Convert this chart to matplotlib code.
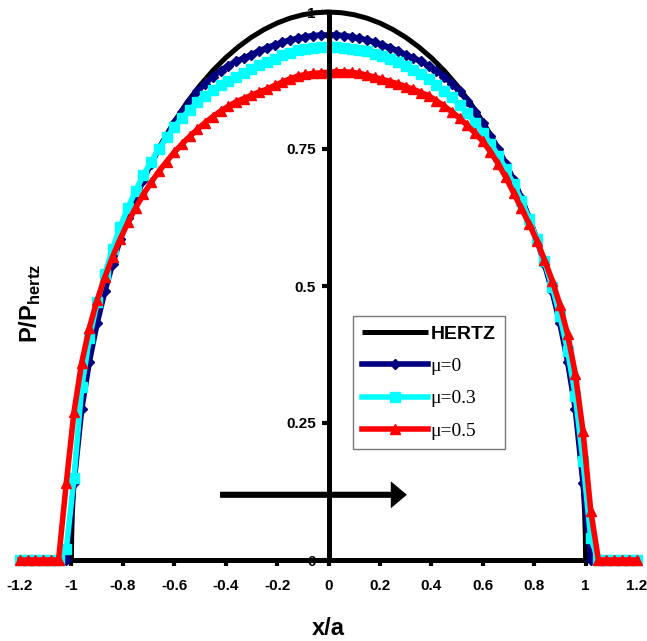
import matplotlib
matplotlib.use('Agg')
import matplotlib.pyplot as plt
import numpy as np

plt.rcParams['font.family'] = ['Liberation Sans', 'DejaVu Sans']
plt.rcParams['mathtext.fontset'] = 'custom'
plt.rcParams['mathtext.rm'] = 'Liberation Sans'
plt.rcParams['mathtext.bf'] = 'Liberation Sans:bold'

# ---- data ----
# sample positions x/a for the three computed series (step 0.03 from -1.2 to 1.2)
x_grid = np.linspace(-1.2, 1.2, 81)

hertz_half_x = [0.0, 0.05, 0.1, 0.15, 0.2, 0.25, 0.3, 0.35, 0.4, 0.45, 0.5, 0.55, 0.6, 0.65,
                0.7, 0.75, 0.8, 0.825, 0.85, 0.875, 0.9, 0.92, 0.94, 0.95, 0.96, 0.97, 0.98,
                0.99, 0.996, 0.999, 1.0, 1.2]
hertz_half_y = [1.0, 0.9987, 0.9950, 0.9887, 0.9798, 0.9682, 0.9539, 0.9367, 0.9165, 0.8930,
                0.8660, 0.8352, 0.8000, 0.7599, 0.7141, 0.6614, 0.6000, 0.5651, 0.5268, 0.4841,
                0.4359, 0.3919, 0.3412, 0.3122, 0.2800, 0.2431, 0.1990, 0.1411, 0.0894, 0.0447,
                0.0, 0.0]
hertz_x = [-v for v in hertz_half_x[::-1]] + hertz_half_x[1:]
hertz_y = hertz_half_y[::-1] + hertz_half_y[1:]

mu0 = [0, 0, 0, 0, 0, 0, 0,
       0.140, 0.275, 0.362, 0.432, 0.490, 0.540, 0.585, 0.625, 0.661, 0.694, 0.723, 0.750,
       0.774, 0.797, 0.818, 0.838, 0.855, 0.869, 0.882, 0.893, 0.902, 0.910, 0.916, 0.922,
       0.929, 0.935, 0.940, 0.945, 0.949, 0.952, 0.955, 0.957, 0.958,
       0.958,
       0.958, 0.957, 0.955, 0.952, 0.949, 0.945, 0.940, 0.935, 0.929, 0.922, 0.916, 0.910,
       0.902, 0.893, 0.882, 0.869, 0.855, 0.838, 0.818, 0.797, 0.774, 0.750, 0.723, 0.694,
       0.661, 0.625, 0.585, 0.540, 0.490, 0.432, 0.362, 0.275, 0.140,
       0, 0, 0, 0, 0, 0, 0]

mu03 = [0, 0, 0, 0, 0, 0,
        0.020, 0.150, 0.315, 0.405, 0.470, 0.522, 0.568, 0.608, 0.643, 0.674, 0.702, 0.727,
        0.750, 0.771, 0.790, 0.807, 0.822, 0.835, 0.847, 0.857, 0.866, 0.874, 0.882, 0.889,
        0.896, 0.903, 0.909, 0.915, 0.921, 0.926, 0.930, 0.933, 0.935, 0.936,
        0.936,
        0.936, 0.935, 0.933, 0.931, 0.928, 0.924, 0.919, 0.914, 0.908, 0.901, 0.894, 0.886,
        0.877, 0.867, 0.856, 0.844, 0.830, 0.815, 0.798, 0.780, 0.760, 0.738, 0.713, 0.686,
        0.656, 0.623, 0.586, 0.545, 0.499, 0.446, 0.382, 0.300, 0.180, 0.040,
        0, 0, 0, 0, 0, 0]

mu05 = [0, 0, 0, 0, 0, 0,
        0.140, 0.270, 0.360, 0.424, 0.474, 0.516, 0.553, 0.586, 0.616, 0.643, 0.667, 0.689,
        0.709, 0.727, 0.744, 0.759, 0.773, 0.786, 0.798, 0.809, 0.819, 0.828, 0.836, 0.842,
        0.848, 0.854, 0.859, 0.866, 0.872, 0.878, 0.883, 0.886, 0.888, 0.889,
        0.890,
        0.891, 0.891, 0.890, 0.888, 0.885, 0.881, 0.877, 0.873, 0.869, 0.864, 0.859, 0.853,
        0.847, 0.838, 0.828, 0.818, 0.806, 0.793, 0.779, 0.764, 0.745, 0.723, 0.698, 0.670,
        0.642, 0.614, 0.583, 0.548, 0.510, 0.466, 0.412, 0.340, 0.235, 0.090,
        0, 0, 0, 0, 0, 0]

series_labels = ['HERTZ', 'μ=0', 'μ=0.3', 'μ=0.5']
xticks = [-1.2, -1.0, -0.8, -0.6, -0.4, -0.2, 0.0, 0.2, 0.4, 0.6, 0.8, 1.0, 1.2]
xtick_labels = ['-1.2', '-1', '-0.8', '-0.6', '-0.4', '-0.2', '0', '0.2', '0.4', '0.6', '0.8', '1', '1.2']
yticks = [0, 0.25, 0.5, 0.75, 1.0]
ytick_labels = ['0', '0.25', '0.5', '0.75', '1']

# ---- figure ----
W, H = 647, 641
AX_L, AX_R, AX_T, AX_B = 20, 637, 12, 560
fig = plt.figure(figsize=(W / 100, H / 100), dpi=100)
ax = fig.add_axes([AX_L / W, (H - AX_B) / H, (AX_R - AX_L) / W, (AX_B - AX_T) / H])
axw, axh = AX_R - AX_L, AX_B - AX_T

l_h, = ax.plot(hertz_x, hertz_y, color='black', lw=3.6, zorder=2.5, clip_on=False,
               solid_capstyle='butt', solid_joinstyle='round')
l_0, = ax.plot(x_grid, mu0, color='#000080', lw=4, marker='D', ms=5.5, zorder=3, clip_on=False)
l_3, = ax.plot(x_grid, mu03, color='#00FFFF', lw=4, marker='s', ms=6.5, zorder=4, clip_on=False)
l_5, = ax.plot(x_grid, mu05, color='#FF0000', lw=4, marker='^', ms=7.5, zorder=5, clip_on=False)

ax.set_xlim(-1.2, 1.2)
ax.set_ylim(0, 1)

ax.spines['top'].set_visible(False)
ax.spines['right'].set_visible(False)
ax.spines['left'].set_position(('data', 0))
ax.spines['bottom'].set_position(('data', 0))
for s in ('left', 'bottom'):
    ax.spines[s].set_linewidth(3.6)
    ax.spines[s].set_color('black')
ax.spines['bottom'].set_zorder(2)
ax.spines['left'].set_zorder(7)

ax.set_xticks(xticks)
ax.set_xticklabels(xtick_labels)
ax.set_yticks(yticks)
ax.set_yticklabels(ytick_labels)
ax.tick_params(axis='x', direction='out', length=4, width=3, pad=10, labelsize=11)
ax.tick_params(axis='y', direction='out', length=5, width=3, pad=4, labelsize=11)
for t in ax.get_xticklabels() + ax.get_yticklabels():
    t.set_fontweight('bold')

ax.set_xlabel('x/a', fontsize=17, fontweight='bold')
ax.xaxis.set_label_coords(0.5, (AX_B - 617) / axh)
ax.set_ylabel(r'$\mathbf{P/P_{hertz}}$', fontsize=17, va='center', ha='center',
              rotation_mode='default')
ax.yaxis.set_label_coords((30 - AX_L) / axw, (AX_B - 303) / axh)

ax.annotate('', xy=(0.305, 0.119), xytext=(-0.422, 0.119),
            arrowprops=dict(arrowstyle='simple,head_length=0.58,head_width=0.97,tail_width=0.22',
                            color='black', lw=0, mutation_scale=20,
                            shrinkA=0, shrinkB=0))

leg = ax.legend([l_h, l_0, l_3, l_5], series_labels, loc='upper left',
                bbox_to_anchor=((353 - AX_L) / axw, (AX_B - 316) / axh),
                frameon=True, fancybox=False, edgecolor='#555555', numpoints=1,
                handlelength=3.4, handletextpad=0.1, borderpad=0.48, labelspacing=0.75,
                fontsize=14, borderaxespad=0)
leg.get_frame().set_linewidth(1.0)
leg.set_zorder(8)
texts = leg.get_texts()
texts[0].set_fontweight('bold')
texts[0].set_fontfamily('Liberation Sans')
for t in texts[1:]:
    t.set_fontfamily('Liberation Serif')

fig.savefig('out.png', dpi=100)
